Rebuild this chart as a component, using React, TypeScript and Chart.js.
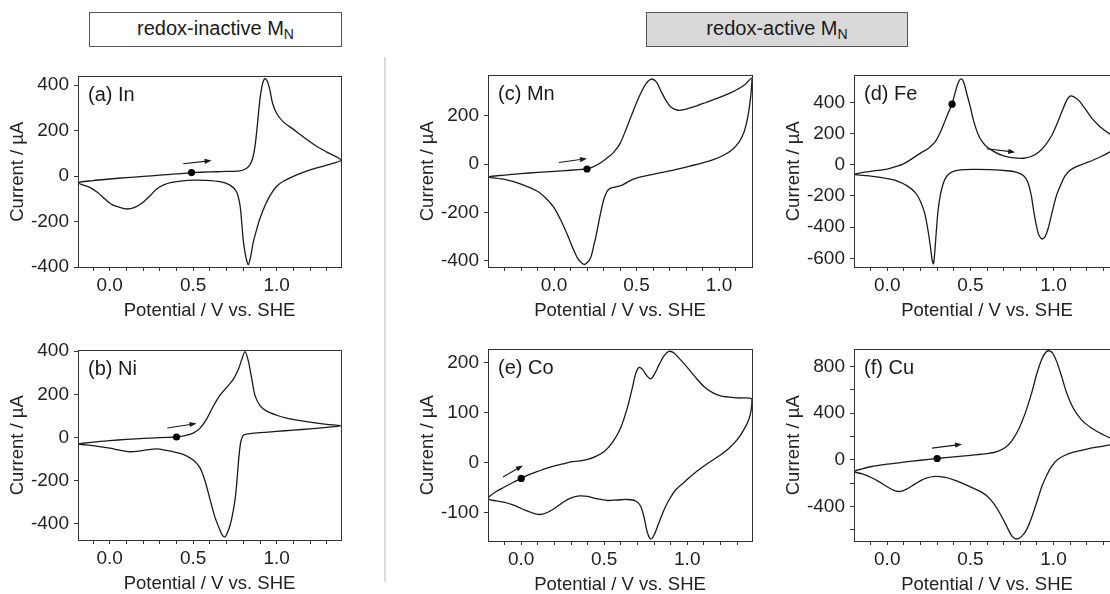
import React, { useEffect, useRef } from "react";
import { Chart, registerables } from "chart.js";

Chart.register(...registerables);

const FONT = "'Liberation Sans', Arial, Helvetica, sans-serif";
Chart.defaults.font.family = FONT;
Chart.defaults.color = "#222";

// ---------- (a) In ----------
const inPotential = [
  0.49, 0.6, 0.7, 0.78, 0.81, 0.835, 0.855, 0.87, 0.885, 0.9, 0.915, 0.93, 0.945, 0.96, 0.975, 1.0, 1.04, 1.1, 1.16, 1.22, 1.3, 1.385,
  1.3, 1.2, 1.12, 1.04, 1.0, 0.96, 0.93, 0.9, 0.88, 0.86, 0.845, 0.83, 0.815, 0.8, 0.79, 0.78, 0.76, 0.72, 0.66, 0.58, 0.5, 0.45, 0.37, 0.32, 0.28, 0.24, 0.2, 0.15, 0.1, 0.06, 0.01, -0.03, -0.07, -0.12, -0.19,
  -0.1, 0.0, 0.1, 0.2, 0.3, 0.4, 0.49,
];
const inCurrent = [
  15, 18, 20, 23, 30, 45, 75, 130, 230, 340, 405, 428, 415, 375, 320, 275, 238, 205, 172, 140, 105, 70,
  48, 27, 5, -23, -45, -86, -130, -186, -235, -290, -350, -390, -355, -285, -200, -128, -70, -40, -25, -19, -18, -20, -28, -40, -58, -88, -115, -138, -145, -138, -124, -100, -74, -50, -30,
  -20, -13, -7, -2, 4, 9, 15,
];

// ---------- (b) Ni ----------
const niPotential = [
  0.4, 0.45, 0.5, 0.54, 0.58, 0.62, 0.66, 0.7, 0.74, 0.77, 0.79, 0.81, 0.83, 0.85, 0.87, 0.9, 0.94, 1.0, 1.06, 1.14, 1.22, 1.3, 1.385,
  1.3, 1.2, 1.1, 1.0, 0.9, 0.83, 0.8, 0.785, 0.775, 0.765, 0.755, 0.74, 0.72, 0.7, 0.69, 0.675, 0.66, 0.63, 0.6, 0.57, 0.54, 0.5, 0.45, 0.4, 0.34, 0.28, 0.22, 0.16, 0.11, 0.05, 0.0, -0.1, -0.19,
  -0.1, 0.0, 0.1, 0.2, 0.3, 0.4,
];
const niCurrent = [
  2, 8, 20, 42, 85, 145, 195, 232, 270, 315, 360, 398, 355, 275, 195, 148, 122, 103, 90, 78, 69, 61, 54,
  47, 40, 34, 28, 22, 17, 10, -20, -80, -170, -260, -340, -410, -450, -462, -455, -430, -370, -285, -200, -140, -105, -82, -70, -60, -53, -58, -65, -66, -58, -50, -38, -30,
  -22, -15, -9, -4, -1, 2,
];

// ---------- (c) Mn ----------
const mnPotential = [
  0.2, 0.24, 0.28, 0.32, 0.36, 0.4, 0.44, 0.48, 0.52, 0.56, 0.59, 0.62, 0.65, 0.68, 0.71, 0.75, 0.79, 0.85, 0.92, 1.0, 1.08, 1.15, 1.2,
  1.195, 1.185, 1.17, 1.15, 1.12, 1.08, 1.03, 0.97, 0.9, 0.8, 0.7, 0.6, 0.5, 0.45, 0.41, 0.37, 0.34, 0.32, 0.3, 0.28, 0.26, 0.24, 0.22, 0.19, 0.17, 0.14, 0.11, 0.08, 0.04, 0.0, -0.05, -0.1, -0.2, -0.3, -0.4,
  -0.3, -0.2, -0.1, 0.0, 0.1, 0.2,
];
const mnCurrent = [
  -20, -10, 5, 25, 48, 85, 150, 220, 285, 335, 352, 340, 300, 262, 235, 223, 226, 238, 255, 275, 298, 325, 356,
  300, 240, 180, 130, 90, 60, 38, 20, 5, -12, -28, -42, -58, -72, -88, -95, -100, -115, -150, -210, -280, -340, -390, -413, -410, -385, -340, -290, -230, -180, -140, -112, -82, -63, -53,
  -45, -39, -34, -30, -25, -20,
];

// ---------- (d) Fe ----------
const fePotential = [
  0.39, 0.41, 0.43, 0.446, 0.46, 0.48, 0.5, 0.52, 0.545, 0.57, 0.6, 0.65, 0.7, 0.76, 0.82, 0.87, 0.91, 0.95, 0.99, 1.02, 1.05, 1.08, 1.1, 1.12, 1.15, 1.19, 1.23, 1.28, 1.34, 1.4,
  1.39, 1.37, 1.34, 1.29, 1.24, 1.19, 1.14, 1.1, 1.07, 1.045, 1.02, 0.995, 0.97, 0.95, 0.93, 0.91, 0.895, 0.88, 0.865, 0.845, 0.82, 0.78, 0.72, 0.62, 0.52, 0.44, 0.39, 0.36, 0.34, 0.32, 0.305, 0.295, 0.285, 0.278, 0.27, 0.26, 0.245, 0.225, 0.2, 0.17, 0.12, 0.05, 0.0, -0.1, -0.2,
  -0.1, 0.0, 0.05, 0.1, 0.15, 0.2, 0.25, 0.29, 0.32, 0.35, 0.37, 0.39,
];
const feCurrent = [
  389, 470, 535, 552, 530, 450, 370, 280, 200, 150, 115, 80, 58, 44, 42, 55, 80, 125, 190, 260, 340, 415, 441, 438, 415, 360, 300, 245, 197, 160,
  125, 105, 83, 55, 31, 10, -10, -35, -70, -125, -190, -290, -400, -460, -476, -445, -380, -290, -190, -110, -70, -48, -38, -31, -29, -32, -45, -70, -110, -190, -300, -430, -570, -635, -610, -530, -420, -310, -235, -180, -135, -100, -88, -72, -62,
  -42, -27, -12, 8, 40, 75, 108, 150, 210, 290, 340, 389,
];

// ---------- (e) Co ----------
const coPotential = [
  0.0, 0.05, 0.1, 0.15, 0.2, 0.25, 0.3, 0.35, 0.4, 0.45, 0.5, 0.55, 0.6, 0.64, 0.67, 0.69, 0.71, 0.73, 0.76, 0.78, 0.8, 0.83, 0.86, 0.89, 0.92, 0.96, 1.0, 1.05, 1.1, 1.15, 1.2, 1.3, 1.39,
  1.385, 1.37, 1.34, 1.3, 1.25, 1.2, 1.14, 1.08, 1.03, 0.98, 0.93, 0.89, 0.86, 0.83, 0.8, 0.78, 0.76, 0.74, 0.72, 0.69, 0.64, 0.58, 0.52, 0.46, 0.4, 0.35, 0.3, 0.25, 0.2, 0.15, 0.11, 0.06, 0.0, -0.05, -0.1, -0.15, -0.2,
  -0.15, -0.1, -0.05, 0.0,
];
const coCurrent = [
  -32, -24, -18, -12, -7, -3, 1, 3, 6, 12, 22, 40, 70, 110, 150, 178, 190, 186, 172, 167, 175, 195, 213, 222, 219, 205, 190, 170, 152, 140, 133, 129, 127,
  105, 85, 65, 45, 28, 15, 2, -12, -25, -40, -55, -75, -95, -120, -145, -153, -140, -110, -88, -77, -74, -75, -76, -73, -68, -67, -71, -80, -92, -101, -104, -100, -92, -85, -80, -77, -72,
  -58, -49, -40, -32,
];

// ---------- (f) Cu ----------
const cuPotential = [
  0.3, 0.4, 0.5, 0.6, 0.66, 0.71, 0.75, 0.79, 0.83, 0.87, 0.9, 0.93, 0.955, 0.975, 0.995, 1.02, 1.05, 1.08, 1.12, 1.17, 1.23, 1.3, 1.36, 1.4,
  1.39, 1.36, 1.3, 1.2, 1.12, 1.06, 1.02, 0.99, 0.96, 0.93, 0.9, 0.87, 0.84, 0.81, 0.78, 0.75, 0.72, 0.68, 0.64, 0.6, 0.55, 0.5, 0.45, 0.4, 0.35, 0.29, 0.23, 0.17, 0.12, 0.08, 0.04, 0.0, -0.05, -0.1, -0.15, -0.2,
  -0.15, -0.1, 0.0, 0.1, 0.2, 0.3,
];
const cuCurrent = [
  11, 25, 38, 52, 70, 105, 165, 260, 400, 580, 740, 865, 925, 935, 915, 840, 710, 570, 440, 340, 270, 215, 175, 155,
  145, 135, 118, 92, 65, 32, -5, -55, -130, -230, -360, -490, -595, -655, -680, -655, -575, -465, -375, -310, -265, -232, -200, -172, -152, -143, -160, -205, -250, -272, -262, -232, -188, -150, -122, -100,
  -78, -60, -38, -20, -4, 11,
];

// start markers and sweep arrows [x1, y1, x2, y2]
const startPoints: Record<string, [number, number]> = {
  a: [0.49, 15], b: [0.4, 2], c: [0.2, -20], d: [0.39, 389], e: [0.0, -32], f: [0.3, 11],
};
const sweepArrows: Record<string, [number, number, number, number]> = {
  a: [0.44, 54, 0.61, 68],
  b: [0.345, 44, 0.52, 65],
  c: [0.03, 7, 0.2, 23],
  d: [0.6, 103, 0.77, 81],
  e: [-0.11, -29, 0.01, -6],
  f: [0.27, 100, 0.45, 133],
};

const yTicksA = [-400, -200, 0, 200, 400];
const yTicksB = [-400, -200, 0, 200, 400];
const yTicksC = [-400, -200, 0, 200];
const yTicksD = [-600, -400, -200, 0, 200, 400];
const yTicksE = [-100, 0, 100, 200];
const yTicksF = [-600, -400, -200, 0, 200, 400, 600, 800];
const yLabelsF = [-400, 0, 400, 800];

type Spec = {
  key: string;
  label: string;
  px: number[];
  py: number[];
  xMin: number;
  xMax: number;
  yMin: number;
  yMax: number;
  yTicks: number[];
  yLabels: number[];
  rect: [number, number, number, number]; // left, top, right, bottom
};

const specs: Spec[] = [
  { key: "a", label: "(a) In", px: inPotential, py: inCurrent, xMin: -0.19, xMax: 1.385, yMin: -400, yMax: 438, yTicks: yTicksA, yLabels: yTicksA, rect: [78, 70, 341, 267] },
  { key: "b", label: "(b) Ni", px: niPotential, py: niCurrent, xMin: -0.19, xMax: 1.385, yMin: -476, yMax: 404, yTicks: yTicksB, yLabels: yTicksB, rect: [78, 344, 341, 540] },
  { key: "c", label: "(c) Mn", px: mnPotential, py: mnCurrent, xMin: -0.4, xMax: 1.2, yMin: -425, yMax: 367, yTicks: yTicksC, yLabels: yTicksC, rect: [488, 69, 752, 267] },
  { key: "e", label: "(e) Co", px: coPotential, py: coCurrent, xMin: -0.2, xMax: 1.39, yMin: -157, yMax: 226, yTicks: yTicksE, yLabels: yTicksE, rect: [488, 343, 752, 541] },
  { key: "d", label: "(d) Fe", px: fePotential, py: feCurrent, xMin: -0.2, xMax: 1.4, yMin: -656, yMax: 574, yTicks: yTicksD, yLabels: yTicksD, rect: [854, 69, 1120, 267] },
  { key: "f", label: "(f) Cu", px: cuPotential, py: cuCurrent, xMin: -0.2, xMax: 1.4, yMin: -697, yMax: 947, yTicks: yTicksF, yLabels: yLabelsF, rect: [854, 343, 1120, 541] },
];

const AXIS_W = 72;
const PAD_T = 10;
const PAD_R = 10;
const XAXIS_H = 60;
const INK = "#1a1a1a";
const FRAME = "#333";

function Panel({ spec }: { spec: Spec }) {
  const ref = useRef<HTMLCanvasElement | null>(null);
  const [l, t, r, b] = spec.rect;
  const w = AXIS_W + (r - l) + PAD_R;
  const h = PAD_T + (b - t) + XAXIS_H;

  useEffect(() => {
    const canvas = ref.current;
    if (!canvas) return;
    const xTicks: number[] = [];
    for (let k = -10; k <= 20; k++) {
      const v = k / 10;
      if (v > spec.xMin + 1e-6 && v < spec.xMax - 1e-6) xTicks.push(v);
    }
    const curve = spec.px.map((x, i) => ({ x, y: spec.py[i] }));
    const sp = startPoints[spec.key];
    const ar = sweepArrows[spec.key];

    const decor = {
      id: "decor" + spec.key,
      afterDraw(chart: any) {
        const { ctx, chartArea: a, scales } = chart;
        ctx.save();
        ctx.strokeStyle = FRAME;
        ctx.lineWidth = 1;
        ctx.strokeRect(Math.round(a.left) + 0.5, Math.round(a.top) + 0.5, Math.round(a.right - a.left), Math.round(a.bottom - a.top));
        ctx.fillStyle = INK;
        ctx.font = `20px ${FONT}`;
        ctx.textAlign = "left";
        ctx.textBaseline = "alphabetic";
        ctx.fillText(spec.label, a.left + 10, a.top + 25);
        const x1 = scales.x.getPixelForValue(ar[0]);
        const y1 = scales.y.getPixelForValue(ar[1]);
        const x2 = scales.x.getPixelForValue(ar[2]);
        const y2 = scales.y.getPixelForValue(ar[3]);
        const ang = Math.atan2(y2 - y1, x2 - x1);
        const hl = 7, hw = 2.6;
        const c = Math.cos(ang), s = Math.sin(ang);
        ctx.strokeStyle = INK;
        ctx.lineWidth = 1.1;
        ctx.beginPath();
        ctx.moveTo(x1, y1);
        ctx.lineTo(x2 - hl * 0.7 * c, y2 - hl * 0.7 * s);
        ctx.stroke();
        ctx.beginPath();
        ctx.moveTo(x2, y2);
        ctx.lineTo(x2 - hl * c + hw * s, y2 - hl * s - hw * c);
        ctx.lineTo(x2 - hl * c - hw * s, y2 - hl * s + hw * c);
        ctx.closePath();
        ctx.fill();
        ctx.restore();
      },
    };

    const chart = new Chart(canvas, {
      type: "scatter",
      data: {
        datasets: [
          {
            data: [{ x: sp[0], y: sp[1] }],
            pointRadius: 3.6,
            pointBackgroundColor: "#000",
            pointBorderWidth: 0,
            showLine: false,
          },
          {
            data: curve,
            showLine: true,
            borderColor: INK,
            borderWidth: 1.3,
            pointRadius: 0,
            tension: 0.3,
            fill: false,
          },
        ],
      },
      options: {
        responsive: false,
        animation: false,
        events: [],
        layout: { padding: { top: PAD_T, right: PAD_R, left: 0, bottom: 0 } },
        plugins: { legend: { display: false }, tooltip: { enabled: false }, title: { display: false } },
        scales: {
          x: {
            type: "linear",
            min: spec.xMin,
            max: spec.xMax,
            afterBuildTicks: (axis: any) => {
              axis.ticks = xTicks.map((v) => ({ value: v }));
            },
            afterFit: (axis: any) => {
              axis.height = XAXIS_H;
            },
            ticks: {
              autoSkip: false,
              maxRotation: 0,
              minRotation: 0,
              padding: 3,
              color: "#222",
              font: { size: 19, family: FONT },
              callback: (value: any) => {
                const v = Number(value);
                return Math.abs(v * 2 - Math.round(v * 2)) < 1e-6 ? v.toFixed(1) : "";
              },
            },
            grid: { display: true, drawOnChartArea: false, drawTicks: true, tickLength: 4, color: FRAME, lineWidth: 1 },
            border: { display: false },
            title: {
              display: true,
              text: "Potential / V vs. SHE",
              color: "#222",
              font: { size: 18.5, family: FONT, lineHeight: 1.2 },
              padding: { top: 0, bottom: 5 },
            },
          },
          y: {
            type: "linear",
            min: spec.yMin,
            max: spec.yMax,
            afterBuildTicks: (axis: any) => {
              axis.ticks = spec.yTicks.map((v) => ({ value: v }));
            },
            afterFit: (axis: any) => {
              axis.width = AXIS_W;
            },
            ticks: {
              autoSkip: false,
              padding: 5,
              color: "#222",
              font: { size: 19, family: FONT },
              callback: (value: any) => {
                const v = Number(value);
                return spec.yLabels.includes(v) ? String(v) : "";
              },
            },
            grid: { display: true, drawOnChartArea: false, drawTicks: true, tickLength: 4, color: FRAME, lineWidth: 1 },
            border: { display: false },
            title: {
              display: true,
              text: "Current / µA",
              color: "#222",
              font: { size: 18.5, family: FONT, lineHeight: 1.2 },
              padding: { top: 1, bottom: 0 },
            },
          },
        },
      },
      plugins: [decor],
    } as any);
    return () => chart.destroy();
  }, [spec]);

  return (
    <canvas
      ref={ref}
      width={w}
      height={h}
      style={{ position: "absolute", left: l - AXIS_W, top: t - PAD_T, width: w, height: h }}
    />
  );
}

function Header({ left, width, text, bg }: { left: number; width: number; text: string; bg: string }) {
  return (
    <div
      style={{
        position: "absolute",
        left,
        top: 12,
        width,
        height: 35,
        boxSizing: "border-box",
        border: "1.5px solid #555",
        background: bg,
        display: "flex",
        alignItems: "center",
        justifyContent: "center",
        fontFamily: FONT,
        fontSize: 20,
        color: "#1a1a1a",
      }}
    >
      <span>
        {text}
        <sub style={{ fontSize: 14, verticalAlign: "-4px", color: "#1a1a1a" }}>N</sub>
      </span>
    </div>
  );
}

export default function App() {
  return (
    <div
      style={{
        position: "fixed",
        left: 0,
        top: 0,
        width: 1110,
        height: 594,
        overflow: "hidden",
        background: "#fff",
      }}
    >
      <Header left={89} width={253} text="redox-inactive M" bg="#fff" />
      <Header left={646} width={262} text="redox-active M" bg="#d9d9d9" />
      <div style={{ position: "absolute", left: 384, top: 57, width: 2, height: 525, background: "#dcdcdc" }} />
      {specs.map((s) => (
        <Panel key={s.key} spec={s} />
      ))}
    </div>
  );
}
